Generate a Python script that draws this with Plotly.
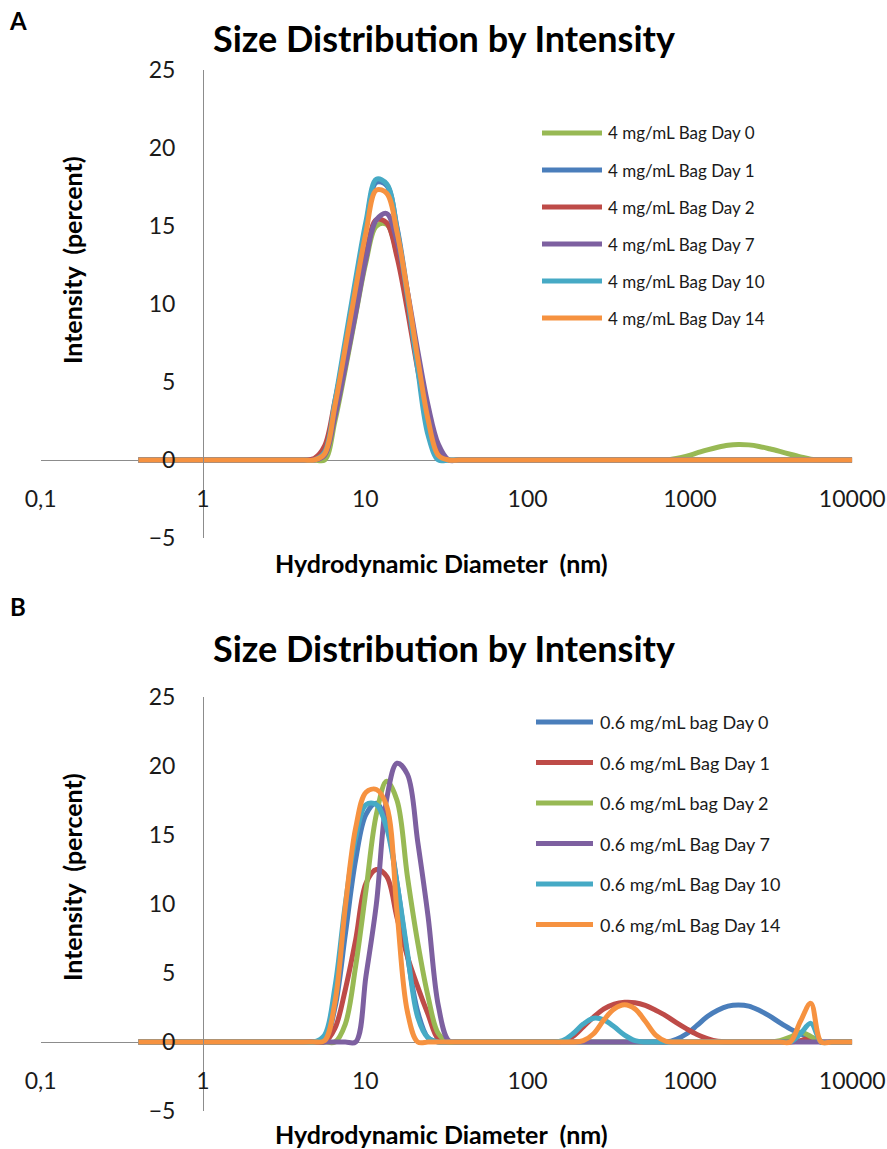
import plotly.graph_objects as go

# Zetasizer size classes (nm)
SIZE_NM = [0.4, 0.4632, 0.5365, 0.6213, 0.7195, 0.8332, 0.9649, 1.117, 1.294, 1.499,
           1.736, 2.010, 2.328, 2.696, 3.122, 3.615, 4.187, 4.849, 5.615, 6.503,
           7.531, 8.721, 10.10, 11.70, 13.54, 15.69, 18.17, 21.04, 24.36, 28.21,
           32.67, 37.84, 43.82, 50.75, 58.77, 68.06, 78.82, 91.28, 105.7, 122.4,
           141.8, 164.2, 190.1, 220.2, 255.0, 295.3, 342.0, 396.1, 458.7, 531.2,
           615.1, 712.4, 825.0, 955.4, 1106, 1281, 1484, 1718, 1990, 2305,
           2669, 3091, 3580, 4145, 4801, 5560, 6439, 7456, 8635, 10000]

# ---- Panel A: 4 mg/mL bag, intensity (%) per size class ----
A_DAY0 = [0, 0, 0, 0, 0, 0, 0, 0, 0, 0,
          0, 0, 0, 0, 0, 0, 0, 0, 0.0, 2.5,
          5.8, 9.3, 12.7, 15.0, 15.1, 13.2, 9.9, 6.2, 2.8, 0.5,
          0, 0, 0, 0, 0, 0, 0, 0, 0, 0,
          0, 0, 0, 0, 0, 0, 0, 0, 0, 0,
          0, 0, 0.1, 0.25, 0.45, 0.65, 0.82, 0.95, 1.0, 0.97,
          0.87, 0.72, 0.55, 0.37, 0.2, 0.05, 0, 0, 0, 0]
A_DAY1 = [0, 0, 0, 0, 0, 0, 0, 0, 0, 0,
          0, 0, 0, 0, 0, 0, 0, 0, 0.4, 3.6,
          7.4, 11.3, 15.0, 17.8, 17.6, 14.9, 10.8, 6.2, 2.2, 0.1,
          0, 0, 0, 0, 0, 0, 0, 0, 0, 0,
          0, 0, 0, 0, 0, 0, 0, 0, 0, 0,
          0, 0, 0, 0, 0, 0, 0, 0, 0, 0,
          0, 0, 0, 0, 0, 0, 0, 0, 0, 0]
A_DAY2 = [0, 0, 0, 0, 0, 0, 0, 0, 0, 0,
          0, 0, 0, 0, 0, 0, 0, 0.1, 0.9, 3.8,
          7.0, 10.2, 13.2, 15.4, 15.2, 13.0, 9.6, 5.8, 2.6, 0.5,
          0, 0, 0, 0, 0, 0, 0, 0, 0, 0,
          0, 0, 0, 0, 0, 0, 0, 0, 0, 0,
          0, 0, 0, 0, 0, 0, 0, 0, 0, 0,
          0, 0, 0, 0, 0, 0, 0, 0, 0, 0]
A_DAY7 = [0, 0, 0, 0, 0, 0, 0, 0, 0, 0,
          0, 0, 0, 0, 0, 0, 0, 0, 0.3, 2.8,
          6.0, 9.4, 12.9, 15.4, 15.8, 14.0, 10.8, 7.0, 3.5, 1.0,
          0, 0, 0, 0, 0, 0, 0, 0, 0, 0,
          0, 0, 0, 0, 0, 0, 0, 0, 0, 0,
          0, 0, 0, 0, 0, 0, 0, 0, 0, 0,
          0, 0, 0, 0, 0, 0, 0, 0, 0, 0]
A_DAY10 = [0, 0, 0, 0, 0, 0, 0, 0, 0, 0,
           0, 0, 0, 0, 0, 0, 0, 0, 0.5, 3.8,
           7.7, 11.6, 15.3, 18.0, 17.7, 14.8, 10.5, 5.8, 1.6, 0.0,
           0, 0, 0, 0, 0, 0, 0, 0, 0, 0,
           0, 0, 0, 0, 0, 0, 0, 0, 0, 0,
           0, 0, 0, 0, 0, 0, 0, 0, 0, 0,
           0, 0, 0, 0, 0, 0, 0, 0, 0, 0]
A_DAY14 = [0, 0, 0, 0, 0, 0, 0, 0, 0, 0,
           0, 0, 0, 0, 0, 0, 0, 0, 0.4, 3.5,
           7.2, 11.0, 14.6, 17.3, 17.1, 14.6, 10.8, 6.5, 2.6, 0.3,
           0, 0, 0, 0, 0, 0, 0, 0, 0, 0,
           0, 0, 0, 0, 0, 0, 0, 0, 0, 0,
           0, 0, 0, 0, 0, 0, 0, 0, 0, 0,
           0, 0, 0, 0, 0, 0, 0, 0, 0, 0]

# ---- Panel B: 0.6 mg/mL bag ----
B_DAY0 = [0, 0, 0, 0, 0, 0, 0, 0, 0, 0,
          0, 0, 0, 0, 0, 0, 0, 0, 0.1, 2.5,
          7.8, 13.2, 16.5, 17.3, 15.8, 11.5, 6.3, 2.2, 0.3, 0,
          0, 0, 0, 0, 0, 0, 0, 0, 0, 0,
          0, 0, 0, 0, 0, 0, 0, 0, 0, 0,
          0, 0, 0.2, 0.6, 1.2, 1.85, 2.3, 2.6, 2.68, 2.6,
          2.3, 1.9, 1.4, 0.95, 0.6, 0.3, 0, 0, 0, 0]
B_DAY1 = [0, 0, 0, 0, 0, 0, 0, 0, 0, 0,
          0, 0, 0, 0, 0, 0, 0, 0, 0, 1.0,
          3.8, 7.4, 11.5, 12.5, 12.0, 9.0, 6.2, 4.0, 2.0, 0.2,
          0, 0, 0, 0, 0, 0, 0, 0, 0, 0,
          0, 0.05, 0.4, 1.1, 1.8, 2.4, 2.75, 2.88, 2.85, 2.65,
          2.3, 1.9, 1.4, 0.95, 0.55, 0.25, 0.05, 0, 0, 0,
          0, 0, 0, 0, 0.1, 0.3, 0, 0, 0, 0]
B_DAY2 = [0, 0, 0, 0, 0, 0, 0, 0, 0, 0,
          0, 0, 0, 0, 0, 0, 0, 0, 0, 0,
          1.3, 5.5, 11.0, 16.5, 18.9, 17.5, 12.0, 7.2, 3.3, 0.6,
          0, 0, 0, 0, 0, 0, 0, 0, 0, 0,
          0, 0, 0, 0, 0, 0, 0, 0, 0, 0,
          0, 0, 0, 0, 0, 0, 0, 0, 0, 0,
          0, 0, 0.1, 0.35, 0.7, 0.4, 0, 0, 0, 0]
B_DAY7 = [0, 0, 0, 0, 0, 0, 0, 0, 0, 0,
          0, 0, 0, 0, 0, 0, 0, 0, 0, 0,
          0, 0, 4.8, 10.0, 17.6, 20.2, 19.4, 14.5, 9.1, 2.6,
          0.1, 0, 0, 0, 0, 0, 0, 0, 0, 0,
          0, 0, 0, 0, 0, 0, 0, 0, 0, 0,
          0, 0, 0, 0, 0, 0, 0, 0, 0, 0,
          0, 0, 0, 0, 0, 0, 0, 0, 0, 0]
B_DAY10 = [0, 0, 0, 0, 0, 0, 0, 0, 0, 0,
           0, 0, 0, 0, 0, 0, 0, 0, 0.5, 4.0,
           10.0, 14.8, 17.2, 17.2, 15.5, 11.5, 6.5, 1.8, 0.3, 0,
           0, 0, 0, 0, 0, 0, 0, 0, 0, 0,
           0, 0.1, 0.6, 1.3, 1.72, 1.6, 1.1, 0.5, 0.1, 0,
           0, 0, 0, 0, 0, 0, 0, 0, 0, 0,
           0, 0, 0, 0, 0.6, 1.35, 0, 0, 0, 0]
B_DAY14 = [0, 0, 0, 0, 0, 0, 0, 0, 0, 0,
           0, 0, 0, 0, 0, 0, 0, 0, 0.1, 2.9,
           9.8, 15.5, 18.1, 18.3, 17.1, 9.4, 2.2, 0, 0, 0,
           0, 0, 0, 0, 0, 0, 0, 0, 0, 0,
           0, 0, 0, 0.1, 0.6, 1.6, 2.4, 2.7, 2.4, 1.5,
           0.5, 0.05, 0, 0, 0, 0, 0, 0, 0, 0,
           0, 0, 0, 0, 1.5, 2.8, 0, 0, 0, 0]

A_NAMES = ["4 mg/mL Bag Day 0", "4 mg/mL Bag Day 1", "4 mg/mL Bag Day 2",
           "4 mg/mL Bag Day 7", "4 mg/mL Bag Day 10", "4 mg/mL Bag Day 14"]
B_NAMES = ["0.6 mg/mL bag Day 0", "0.6 mg/mL Bag Day 1", "0.6 mg/mL bag Day 2",
           "0.6 mg/mL Bag Day 7", "0.6 mg/mL Bag Day 10", "0.6 mg/mL Bag Day 14"]

X_TICKS = [0.1, 1, 10, 100, 1000, 10000]
X_TICKTEXT = ["0,1", "1", "10", "100", "1000", "10000"]
Y_TICKS = [-5, 0, 5, 10, 15, 20, 25]

BLUE, RED, GREEN = "#4A7EBB", "#BE4B48", "#98B954"
PURPLE, AQUA, ORANGE = "#7D60A0", "#46AAC5", "#F69240"
A_COLORS = [GREEN, BLUE, RED, PURPLE, AQUA, ORANGE]
B_COLORS = [BLUE, RED, GREEN, PURPLE, AQUA, ORANGE]

A_SERIES = [A_DAY0, A_DAY1, A_DAY2, A_DAY7, A_DAY10, A_DAY14]
B_SERIES = [B_DAY0, B_DAY1, B_DAY2, B_DAY7, B_DAY10, B_DAY14]

W, H = 887, 1149
FONT = "Lato"
AXIS_GREY = "#8C8C8C"


def px(x):
    return x / W


def py(y):
    return 1 - y / H


fig = go.Figure()

for series, names, colors, xa, ya in [
    (A_SERIES, A_NAMES, A_COLORS, "x", "y"),
    (B_SERIES, B_NAMES, B_COLORS, "x2", "y2"),
]:
    for vals, name, col in zip(series, names, colors):
        fig.add_trace(go.Scatter(
            x=SIZE_NM, y=vals, name=name, mode="lines",
            line=dict(color=col, width=5, shape="spline", smoothing=1),
            xaxis=xa, yaxis=ya, showlegend=False, hoverinfo="skip",
        ))

# panel geometry (pixels): x=1 nm at 203, one decade = 162.3 px
X_LEFT, X_RIGHT = 40.7, 852.2
X_ONE = 203
A_TOP, A_BOT, A_ZERO = 70, 538, 460
B_TOP, B_BOT, B_ZERO = 697, 1111, 1042

tick_font = dict(family=FONT, size=23, color="#1a1a1a")


def xaxis_cfg(zero_y):
    return dict(
        type="log", range=[-1, 4], domain=[px(X_LEFT), px(X_RIGHT)],
        anchor="free", position=py(zero_y), automargin=False,
        showline=False, showgrid=False, zeroline=False, ticks="",
        tickvals=X_TICKS, ticktext=X_TICKTEXT, tickfont=tick_font,
        ticklabelstandoff=23,
    )


def yaxis_cfg(top, bot):
    return dict(
        range=[-5, 25], domain=[py(bot), py(top)],
        anchor="free", position=px(X_ONE), automargin=False,
        showline=True, linecolor=AXIS_GREY, linewidth=1,
        showgrid=False, zeroline=True, zerolinecolor=AXIS_GREY, zerolinewidth=1,
        ticks="", tickvals=Y_TICKS, tickfont=tick_font, ticklabelstandoff=23,
    )


fig.update_layout(
    width=W, height=H, autosize=False,
    margin=dict(l=0, r=0, t=0, b=0, pad=0, autoexpand=False),
    paper_bgcolor="white", plot_bgcolor="rgba(0,0,0,0)",
    xaxis=xaxis_cfg(A_ZERO),
    yaxis=yaxis_cfg(A_TOP, A_BOT),
    xaxis2=xaxis_cfg(B_ZERO),
    yaxis2=yaxis_cfg(B_TOP, B_BOT),
    font=dict(family=FONT),
    showlegend=False,
)

annotations = []
shapes = []


def label(text, x, y, size, **kw):
    d = dict(text=text, x=px(x), y=py(y), xref="paper", yref="paper",
             xanchor="center", yanchor="middle", showarrow=False,
             font=dict(family=FONT, size=size, color="black"))
    d.update(kw)
    return d


# panel letters, titles and axis titles
for letter, ly, ty, xty, yty in [("A", 21, 38, 563, 260), ("B", 606, 648, 1134, 877)]:
    annotations.append(label("<b>%s</b>" % letter, 18, ly, 24))
    annotations.append(label("<b>Size Distribution by Intensity</b>", 444, ty, 36))
    annotations.append(label("<b>Hydrodynamic Diameter  (nm)</b>", 441, xty, 25))
    annotations.append(label("<b>Intensity  (percent)</b>", 72, yty, 25, textangle=-90))

# legends
for names, colors, x0, x1, xt, y0, dy, fs in [
    (A_NAMES, A_COLORS, 542, 602, 606, 133, 37, 17),
    (B_NAMES, B_COLORS, 536, 593, 598, 722, 40.5, 18),
]:
    for i, (name, col) in enumerate(zip(names, colors)):
        yy = y0 + i * dy
        shapes.append(dict(type="line", xref="paper", yref="paper",
                           x0=px(x0), x1=px(x1), y0=py(yy), y1=py(yy),
                           line=dict(color=col, width=5)))
        annotations.append(label(name, xt, yy, fs, xanchor="left",
                                 font=dict(family=FONT, size=fs, color="#1a1a1a")))

fig.update_layout(annotations=annotations, shapes=shapes)

fig.write_html("out.html")
